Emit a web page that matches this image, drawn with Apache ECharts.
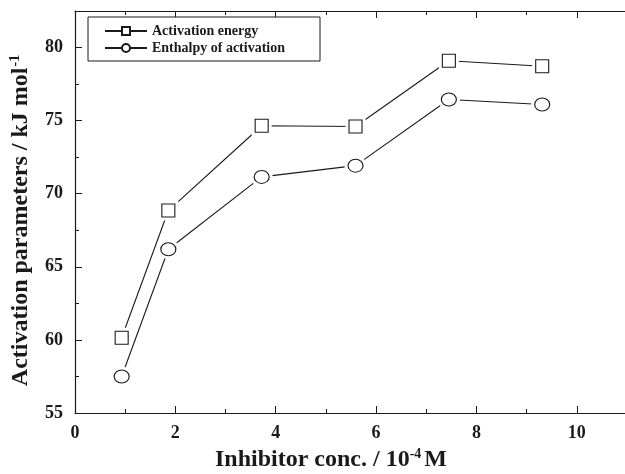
<!DOCTYPE html>
<html>
<head>
<meta charset="utf-8">
<script src="https://cdn.jsdelivr.net/npm/echarts@6/dist/echarts.min.js"></script>
<style>
  html, body { margin: 0; padding: 0; background: #fff; }
  #chart { width: 625px; height: 474px; }
</style>
</head>
<body>
<div id="chart"></div>
<script>
// Inhibitor concentration (10^-4 M)
const concentration = [0.93, 1.86, 3.72, 5.59, 7.45, 9.31];
// Activation energy Ea (kJ/mol)
const activationEnergy = [60.15, 68.85, 74.65, 74.6, 79.1, 78.72];
// Enthalpy of activation ΔH (kJ/mol)
const enthalpy = [57.5, 66.2, 71.15, 71.92, 76.45, 76.1];

const xTicks = { min: 0, max: 11, interval: 2 };
const yTicks = { min: 55, max: 82.5, interval: 5 };

const font = 'Liberation Serif';
const ink = '#1a1a1a';

const pairs = (xs, ys) => xs.map((x, i) => [x, ys[i]]);

const chart = echarts.init(document.getElementById('chart'), null, { renderer: 'canvas' });

const axisCommon = {
  axisLine: { show: true, onZero: false, lineStyle: { color: ink, width: 1.2 } },
  axisTick: { show: true, inside: true, length: 7, lineStyle: { color: ink, width: 1 } },
  minorTick: { show: true, splitNumber: 2, length: 4, lineStyle: { color: ink, width: 1 } },
  splitLine: { show: false }
};

const seriesStyle = (name, symbol, size, data) => ({
  name: name,
  type: 'line',
  data: data,
  symbol: symbol,
  symbolSize: size,
  showSymbol: true,
  z: 2,
  lineStyle: { color: ink, width: 1.1 },
  itemStyle: { color: '#fff', borderColor: ink, borderWidth: 1.1 },
  emphasis: { disabled: true },
  animation: false
});

// white halo under each marker so the connecting lines stop short of it
const halo = (symbol, size, data) => ({
  type: 'scatter',
  data: data,
  symbol: symbol,
  symbolSize: size,
  z: 3,
  itemStyle: { color: '#fff', opacity: 1 },
  emphasis: { disabled: true },
  silent: true,
  animation: false
});

const marker = (symbol, size, data) => ({
  type: 'scatter',
  data: data,
  symbol: symbol,
  symbolSize: size,
  z: 4,
  itemStyle: { color: '#fff', borderColor: ink, borderWidth: 1.1, opacity: 1 },
  emphasis: { disabled: true },
  silent: true,
  animation: false
});

const eaData = pairs(concentration, activationEnergy);
const dhData = pairs(concentration, enthalpy);

chart.setOption({
  backgroundColor: '#fff',
  animation: false,
  grid: { left: 75, top: 11, width: 552, height: 402, outerBoundsMode: 'none', containLabel: false },
  legend: {
    orient: 'vertical',
    left: 88,
    top: 17,
    data: ['Activation energy', 'Enthalpy of activation'],
    itemWidth: 42,
    itemHeight: 10,
    itemGap: 3,
    padding: [7, 35, 6, 16],
    borderColor: ink,
    borderWidth: 1,
    backgroundColor: '#fff',
    selectedMode: false,
    textStyle: { fontFamily: font, fontWeight: 'bold', fontSize: 14, color: ink, lineHeight: 12, padding: [0, 0, 0, 0] }
  },
  xAxis: [{
    type: 'value',
    min: xTicks.min, max: xTicks.max, interval: xTicks.interval,
    ...axisCommon,
    axisLabel: {
      show: true, margin: 11,
      fontFamily: font, fontWeight: 'bold', fontSize: 18, color: ink,
      formatter: v => (v > 10 ? '' : String(v))
    },
    name: 'Inhibitor conc. / 10{sup|-4}M',
    nameLocation: 'middle',
    nameGap: 32,
    nameTextStyle: {
      fontFamily: font, fontWeight: 'bold', fontSize: 24, color: ink,
      padding: [0, 40, 0, 0],
      rich: { sup: { fontFamily: font, fontWeight: 'bold', fontSize: 14, color: ink, verticalAlign: 'top', padding: [0, 3, 12, 0] } }
    }
  }, {
    type: 'value', position: 'top',
    min: xTicks.min, max: xTicks.max, interval: xTicks.interval,
    ...axisCommon,
    axisLabel: { show: false }
  }],
  yAxis: [{
    type: 'value',
    min: yTicks.min, max: yTicks.max, interval: yTicks.interval,
    ...axisCommon,
    axisLabel: {
      show: true, margin: 12,
      fontFamily: font, fontWeight: 'bold', fontSize: 18, color: ink,
      formatter: v => (v > 80 ? '' : String(v))
    },
    name: 'Activation parameters / kJ mol{sup|-1}',
    nameLocation: 'middle',
    nameGap: 41,
    nameTextStyle: {
      fontFamily: font, fontWeight: 'bold', fontSize: 24, color: ink,
      padding: [0, 17, 0, 0],
      rich: { sup: { fontFamily: font, fontWeight: 'bold', fontSize: 14, color: ink, verticalAlign: 'top', padding: [0, 0, 12, 1] } }
    }
  }],
  series: [
    seriesStyle('Activation energy', 'rect', 13, eaData),
    seriesStyle('Enthalpy of activation', 'circle', [15, 13], dhData),
    halo('rect', 20, eaData),
    halo('circle', [22, 20], dhData),
    marker('rect', 13, eaData),
    marker('circle', [15, 13], dhData)
  ]
});
</script>
</body>
</html>
